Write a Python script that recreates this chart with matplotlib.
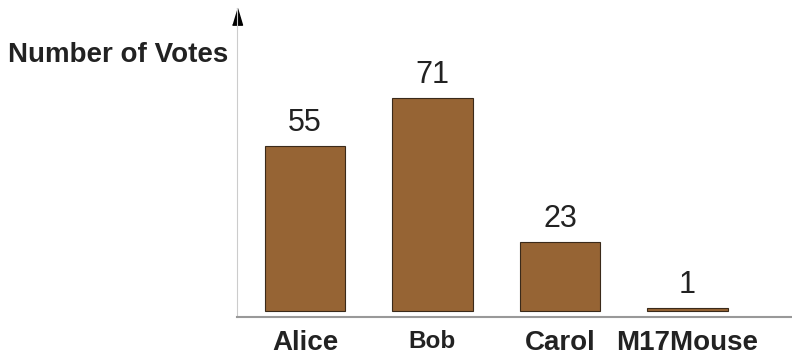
import matplotlib.pyplot as plt

# vote counts
candidates = ['Alice', 'Bob', 'Carol', 'M17Mouse']
votes = [55, 71, 23, 1]
label_sizes = [20, 17.5, 20, 20]

plt.rcParams['font.family'] = ['Liberation Sans', 'DejaVu Sans']

fig = plt.figure(figsize=(7.92, 3.57), dpi=100)
ax = fig.add_axes([237 / 792, 1 - 317 / 357, 1 - 237 / 792, 309 / 357])

positions = range(len(candidates))
bars = ax.bar(positions, votes, width=0.63, bottom=0, color='#966434',
              edgecolor='#3a2a1a', linewidth=0.8)

for bar, v in zip(bars, votes):
    ax.text(bar.get_x() + bar.get_width() / 2, v + 2.8, str(v),
            ha='center', va='bottom', fontsize=22, color='#222222')

ax.set_xlim(-0.533, 3.82)
ax.set_ylim(-2, 101)

ax.set_xticks(list(positions))
ax.set_xticklabels(candidates, fontweight='bold', color='#222222')
for lbl, size in zip(ax.get_xticklabels(), label_sizes):
    lbl.set_fontsize(size)
ax.tick_params(axis='x', length=0, pad=9.5)
ax.set_yticks([])

for side in ['top', 'right']:
    ax.spines[side].set_visible(False)
ax.spines['left'].set_color('#cccccc')
ax.spines['left'].set_linewidth(0.8)
ax.spines['bottom'].set_color('#999999')
ax.spines['bottom'].set_linewidth(1.5)

# arrow head on the y axis, tip at the top of the axis
ax.plot([0], [1.0], marker=[(-3, -10), (3, -10), (0, 0)], markersize=24,
        color='black', transform=ax.transAxes, clip_on=False)

fig.text(8 / 792, 1 - 55 / 357, 'Number of Votes', fontsize=20,
         fontweight='bold', color='#222222', ha='left', va='center')

fig.savefig('out.png', dpi=100)
